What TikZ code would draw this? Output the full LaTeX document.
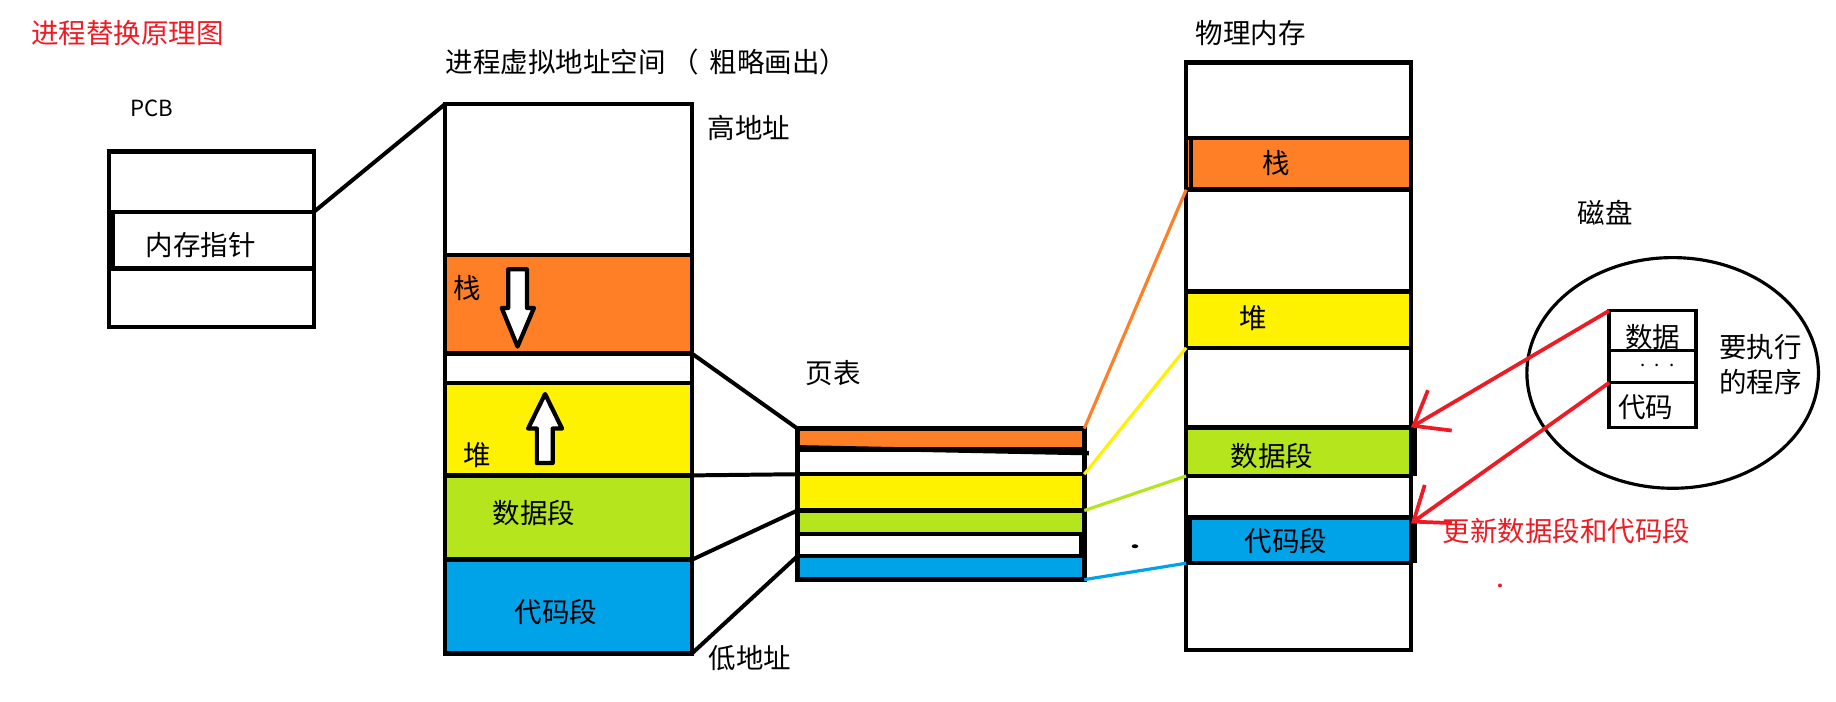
\documentclass[tikz,border=0pt]{standalone}
\usepackage{fontspec}
\setmainfont{Noto Sans CJK SC}
\usepackage{xcolor}
\usetikzlibrary{positioning, shapes.geometric, arrows.meta}
\definecolor{paintorange}{RGB}{255,127,39}
\definecolor{paintyellow}{RGB}{255,242,0}
\definecolor{paintgreen}{RGB}{181,230,29}
\definecolor{paintblue}{RGB}{0,162,232}
\definecolor{paintred}{RGB}{237,28,36}

\begin{document}
\begin{tikzpicture}[x=1pt, y=-1pt, every node/.style={font=\fontsize{23.5}{30}\selectfont, inner sep=0pt, outer sep=0pt}, pcbcell/.style={draw, line width=3.8pt, minimum width=175pt, minimum height=#1}, vcell/.style={draw, line width=3.8pt, minimum width=211pt, minimum height=#1}, ptcell/.style={draw, line width=3.8pt, minimum width=245pt, minimum height=#1}, mcell/.style={draw, line width=3.8pt, minimum width=192pt, minimum height=#1}, dkcell/.style={draw, line width=3pt, minimum width=74pt, minimum height=#1}, link/.style={line width=3.4pt}, thickedge/.style={line width=3.8pt}, ptlink/.style={draw=#1, line width=2.7pt}, loadarrow/.style={paintred, line width=3.2pt, -{Straight Barb[length=26pt, width=40pt]}}, blockarrow/.style={draw, fill=white, line width=3.6pt, line join=round}]
            \useasboundingbox (0,0) rectangle (1568,599);
            \node[text=paintred] (title) at (108.9,28.5) {进程替换原理图};
            % PCB
            \node[font=\fontsize{19}{19}\selectfont] (pcblabel) at (129.5,92.5) {PCB};
            \node[pcbcell=51.5pt, anchor=north west] (pcbtop) at (93,129.5) {};
            \node[pcbcell=48.4pt, below=0pt of pcbtop] (pptr) {};
            \node[pcbcell=50pt, below=0pt of pptr] (pcbbot) {};
            \draw[thickedge] ([xshift=3.5pt]pptr.north west) -- ([xshift=3.5pt]pptr.south west);
            \node (tptr) at (171.4,209.2) {内存指针};
            % virtual address space
            \node[anchor=west] (vlabel) at (380.5,52.7) {进程虚拟地址空间 （\hspace{9pt}粗略画出）};
            \node[vcell=129pt, anchor=north west] (vtop) at (380,89) {};
            \node[vcell=84pt, fill=paintorange, below=0pt of vtop] (vstack) {};
            \node[vcell=25pt, below=0pt of vstack] (vgap) {};
            \node[vcell=79pt, fill=paintyellow, below=0pt of vgap] (vheap) {};
            \node[vcell=72pt, fill=paintgreen, below=0pt of vheap] (vdata) {};
            \node[vcell=80pt, fill=paintblue, below=0pt of vdata] (vcode) {};
            \node (tvstack) at (399.3,246) {栈};
            \node (tvheap) at (407.5,388.5) {堆};
            \node (tvdata) at (456,438.4) {数据段};
            \node (tvcode) at (475,522.3) {代码段};
            \node (high) at (639.8,109.6) {高地址};
            \node (low) at (640.5,562.2) {低地址};
            \draw[blockarrow] (434,230) -- (450,230) -- (450,263) -- (456,263) -- (442,296) -- (428.5,263) -- (434,263) -- cycle;
            \draw[blockarrow] (458.5,395.5) -- (472,395.5) -- (472,366) -- (480,366) -- (465.5,336.5) -- (451,366) -- (458.5,366) -- cycle;
            \draw[link] (pptr.north east) -- (vtop.north west);
            % page table
            \node (ptlabel) at (711.6,318.8) {页表};
            \node[ptcell=18pt, fill=paintorange, anchor=north west] (porange) at (681,366) {};
            \node[ptcell=21pt, below=0pt of porange] (pfree1) {};
            \node[ptcell=31pt, fill=paintyellow, below=0pt of pfree1] (pyellow) {};
            \node[ptcell=20pt, fill=paintgreen, below=0pt of pyellow] (pgreen) {};
            \node[ptcell=19pt, below=0pt of pgreen] (pfree2) {};
            \node[ptcell=20pt, fill=paintblue, below=0pt of pfree2] (pblue) {};
            \draw[thickedge] ([yshift=2pt]porange.south west) -- ([xshift=4pt, yshift=-3pt]porange.south east);
            \draw[thickedge] ([xshift=-2.5pt]pfree2.north east) -- ([xshift=-2.5pt]pfree2.south east);
            \draw[link] (vstack.south east) -- (porange.north west);
            \draw[link] (vheap.south east) -- (pfree1.south west);
            \draw[link] (vdata.south east) -- (pyellow.south west);
            \draw[link] (vcode.south east) -- (pfree2.south west);
            \fill (969.3,466.5) ellipse (2.8pt and 1.7pt);
            % physical memory
            \node (mlabel) at (1068,28.5) {物理内存};
            \node[mcell=64.5pt, anchor=north west] (mtop) at (1013,53.5) {};
            \node[mcell=44pt, fill=paintorange, below=0pt of mtop] (mstack) {};
            \node[mcell=87pt, below=0pt of mstack] (mfree1) {};
            \node[mcell=48pt, fill=paintyellow, below=0pt of mfree1] (mheap) {};
            \node[mcell=68pt, below=0pt of mheap] (mfree2) {};
            \node[mcell=41.5pt, fill=paintgreen, below=0pt of mfree2] (mdata) {};
            \node[mcell=35.5pt, below=0pt of mdata] (mfree3) {};
            \node[mcell=39pt, fill=paintblue, below=0pt of mfree3] (mcode) {};
            \node[mcell=74pt, below=0pt of mcode] (mbottom) {};
            \draw[thickedge] ([xshift=4pt]mstack.north west) -- ([xshift=4pt]mstack.south west);
            \draw[thickedge] ([xshift=3pt]mdata.north east) -- ([xshift=3pt]mdata.south east);
            \draw[thickedge] ([xshift=3pt]mcode.north west) -- ([xshift=3pt]mcode.south west);
            \draw[thickedge] ([xshift=3pt]mcode.north east) -- ([xshift=3pt]mcode.south east);
            \node (tmstack) at (1090.3,139.5) {栈};
            \node (tmheap) at (1070.3,271.8) {堆};
            \node (tmdata) at (1086.3,389.4) {数据段};
            \node (tmcode) at (1098.4,461.7) {代码段};
            \draw[ptlink=paintorange] (porange.north east) -- (mstack.south west);
            \draw[ptlink=paintyellow] (pyellow.north east) -- (mheap.south west);
            \draw[ptlink=paintgreen] (pgreen.north east) -- (mdata.south west);
            \draw[ptlink=paintblue] (pblue.south east) -- (mcode.south west);
            % disk
            \node (dklabel) at (1371,182) {磁盘};
            \node[draw, ellipse, line width=2.7pt, minimum width=249pt, minimum height=197pt] (disk) at (1428.5,318.5) {};
            \node[dkcell=34.2pt, anchor=north west] (dkdata) at (1374.3,265.3) {};
            \node[dkcell=27.3pt, below=0pt of dkdata] (dkdots) {};
            \node[dkcell=38.2pt, below=0pt of dkdots] (dkcode) {};
            \node (tdkdata) at (1411.5,287.5) {数据};
            \node[font=\fontsize{16}{16}\selectfont] (tdkdots) at (1415.5,312.3) {.\hspace{8pt}.\hspace{8pt}.};
            \node (tdkcode) at (1405.6,348) {代码};
            \node[align=left] (prog) at (1503.7,311) {要执行\\的程序};
            % update
            \draw[loadarrow] (dkdata.north west) -- (mdata.north east);
            \draw[loadarrow] (dkcode.north west) -- ([yshift=-5pt]mcode.north east);
            \node[text=paintred, anchor=west] (update) at (1232,453.2) {更新数据段和代码段};
            \fill[paintred] (1281,500) circle (1.7pt);
        \end{tikzpicture}
\end{document}
